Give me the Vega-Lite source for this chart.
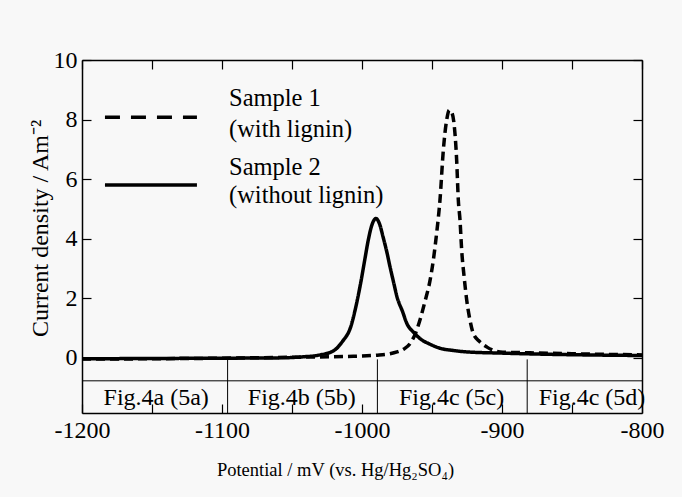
{
  "$schema": "https://vega.github.io/schema/vega-lite/v6.json",
  "width": 560,
  "height": 353,
  "autosize": "none",
  "padding": {"left": 82, "top": 60, "right": 40, "bottom": 84},
  "background": "#f8f8f8",
  "config": {
    "font": "Liberation Serif",
    "view": {"stroke": null},
    "axis": {
      "domainColor": "#000000",
      "domainWidth": 1.5,
      "tickColor": "#000000",
      "tickWidth": 1.2,
      "grid": false,
      "labelColor": "#000000",
      "titleColor": "#000000",
      "labelFont": "Liberation Serif",
      "titleFont": "Liberation Serif",
      "titleFontWeight": "normal"
    }
  },
  "datasets": {
    "curves": [
      {"sample": "Sample 2", "E": -1200, "J": -0.03},
      {"sample": "Sample 2", "E": -1150, "J": -0.02},
      {"sample": "Sample 2", "E": -1100, "J": -0.01},
      {"sample": "Sample 2", "E": -1060, "J": 0.0},
      {"sample": "Sample 2", "E": -1044, "J": 0.03},
      {"sample": "Sample 2", "E": -1030, "J": 0.1},
      {"sample": "Sample 2", "E": -1020, "J": 0.25},
      {"sample": "Sample 2", "E": -1014, "J": 0.55},
      {"sample": "Sample 2", "E": -1008, "J": 1.05},
      {"sample": "Sample 2", "E": -1004, "J": 1.8},
      {"sample": "Sample 2", "E": -1001, "J": 2.5},
      {"sample": "Sample 2", "E": -998, "J": 3.3},
      {"sample": "Sample 2", "E": -995.5, "J": 3.96},
      {"sample": "Sample 2", "E": -993, "J": 4.45},
      {"sample": "Sample 2", "E": -990, "J": 4.68},
      {"sample": "Sample 2", "E": -987.5, "J": 4.5},
      {"sample": "Sample 2", "E": -985, "J": 4.07},
      {"sample": "Sample 2", "E": -982, "J": 3.5},
      {"sample": "Sample 2", "E": -980, "J": 3.06},
      {"sample": "Sample 2", "E": -977.5, "J": 2.55},
      {"sample": "Sample 2", "E": -975, "J": 2.05},
      {"sample": "Sample 2", "E": -971, "J": 1.55},
      {"sample": "Sample 2", "E": -968, "J": 1.16},
      {"sample": "Sample 2", "E": -963, "J": 0.85},
      {"sample": "Sample 2", "E": -958.6, "J": 0.65},
      {"sample": "Sample 2", "E": -951, "J": 0.45},
      {"sample": "Sample 2", "E": -944, "J": 0.32},
      {"sample": "Sample 2", "E": -935, "J": 0.25},
      {"sample": "Sample 2", "E": -925, "J": 0.2},
      {"sample": "Sample 2", "E": -900, "J": 0.16},
      {"sample": "Sample 2", "E": -866, "J": 0.12},
      {"sample": "Sample 2", "E": -800, "J": 0.08},
      {"sample": "Sample 1", "E": -1200, "J": -0.04},
      {"sample": "Sample 1", "E": -1150, "J": -0.03},
      {"sample": "Sample 1", "E": -1100, "J": -0.01},
      {"sample": "Sample 1", "E": -1050, "J": 0.02},
      {"sample": "Sample 1", "E": -1010, "J": 0.05},
      {"sample": "Sample 1", "E": -990, "J": 0.09},
      {"sample": "Sample 1", "E": -980, "J": 0.14},
      {"sample": "Sample 1", "E": -975, "J": 0.2},
      {"sample": "Sample 1", "E": -970, "J": 0.3},
      {"sample": "Sample 1", "E": -965.7, "J": 0.48},
      {"sample": "Sample 1", "E": -962, "J": 0.8},
      {"sample": "Sample 1", "E": -958.6, "J": 1.27},
      {"sample": "Sample 1", "E": -955, "J": 1.9},
      {"sample": "Sample 1", "E": -951.4, "J": 2.6},
      {"sample": "Sample 1", "E": -949, "J": 3.3},
      {"sample": "Sample 1", "E": -946.7, "J": 4.18},
      {"sample": "Sample 1", "E": -944.3, "J": 5.3},
      {"sample": "Sample 1", "E": -941.9, "J": 6.98},
      {"sample": "Sample 1", "E": -939.5, "J": 7.99},
      {"sample": "Sample 1", "E": -937.6, "J": 8.32},
      {"sample": "Sample 1", "E": -936, "J": 8.25},
      {"sample": "Sample 1", "E": -934.3, "J": 7.88},
      {"sample": "Sample 1", "E": -932.4, "J": 6.65},
      {"sample": "Sample 1", "E": -931.2, "J": 5.3},
      {"sample": "Sample 1", "E": -930, "J": 4.63},
      {"sample": "Sample 1", "E": -928.8, "J": 3.62},
      {"sample": "Sample 1", "E": -927, "J": 2.7},
      {"sample": "Sample 1", "E": -925.2, "J": 1.94},
      {"sample": "Sample 1", "E": -923, "J": 1.3},
      {"sample": "Sample 1", "E": -920.5, "J": 0.82},
      {"sample": "Sample 1", "E": -916, "J": 0.55},
      {"sample": "Sample 1", "E": -911, "J": 0.37},
      {"sample": "Sample 1", "E": -901.4, "J": 0.2},
      {"sample": "Sample 1", "E": -880, "J": 0.17},
      {"sample": "Sample 1", "E": -850, "J": 0.14},
      {"sample": "Sample 1", "E": -800, "J": 0.1}
    ],
    "frame": [
      {"x": -1200, "x2": -800, "y": -0.77, "y2": -0.77},
      {"x": -1096, "x2": -1096, "y": -0.05, "y2": -1.85},
      {"x": -989, "x2": -989, "y": -0.05, "y2": -1.85},
      {"x": -882, "x2": -882, "y": -0.05, "y2": -1.85}
    ],
    "legendLines": [
      {"key": "Sample 1", "x": -1183.6, "x2": -1117.9, "y": 8.08},
      {"key": "Sample 2", "x": -1183.6, "x2": -1117.9, "y": 5.8}
    ],
    "legendText": [
      {"x": -1095, "y": 8.44, "t": "Sample 1"},
      {"x": -1095, "y": 7.43, "t": "(with lignin)"},
      {"x": -1095, "y": 6.14, "t": "Sample 2"},
      {"x": -1095, "y": 5.19, "t": "(without lignin)"}
    ],
    "bandText": [
      {"x": -1147, "y": -1.59, "t": "Fig.4a (5a)"},
      {"x": -1043, "y": -1.59, "t": "Fig.4b (5b)"},
      {"x": -936, "y": -1.59, "t": "Fig.4c (5c)"},
      {"x": -835.7, "y": -1.59, "t": "Fig.4c (5d)"}
    ]
  },
  "resolve": {"axis": {"x": "independent", "y": "independent"}, "scale": {"strokeDash": "independent"}},
  "layer": [
    {
      "data": {"name": "frame"},
      "mark": {"type": "rule", "color": "#000000", "strokeWidth": 1},
      "encoding": {
        "x": {"field": "x", "type": "quantitative", "scale": {"domain": [-1200, -800], "nice": false, "zero": false},
          "axis": {"orient": "top", "labels": false, "title": null, "values": [-1200, -1150, -1100, -1050, -1000, -950, -900, -850, -800], "tickSize": -9}},
        "x2": {"field": "x2"},
        "y": {"field": "y", "type": "quantitative", "scale": {"domain": [-1.85, 10], "nice": false, "zero": false},
          "axis": {"orient": "right", "labels": false, "title": null, "values": [0, 2, 4, 6, 8, 10], "tickSize": -9}},
        "y2": {"field": "y2"}
      }
    },
    {
      "data": {"name": "curves"},
      "mark": {"type": "line", "color": "#000000", "interpolate": "monotone", "strokeWidth": 3.5},
      "encoding": {
        "x": {"field": "E", "type": "quantitative", "scale": {"domain": [-1200, -800], "nice": false, "zero": false},
          "axis": {"orient": "bottom", "values": [-1200, -1150, -1100, -1050, -1000, -950, -900, -850, -800],
            "labelExpr": "datum.value % 100 == 0 ? '' + datum.value : ''",
            "tickSize": -9, "labelPadding": 14, "labelFontSize": 24, "labelFlush": false,
            "title": "Potential / mV (vs. Hg/Hg₂SO₄)", "titleFontSize": 18.5, "titleX": 253, "titleY": 62, "titleBaseline": "alphabetic", "titleAnchor": "middle"}},
        "y": {"field": "J", "type": "quantitative", "scale": {"domain": [-1.85, 10], "nice": false, "zero": false},
          "axis": {"orient": "left", "values": [0, 2, 4, 6, 8, 10], "format": "d",
            "tickSize": -9, "labelPadding": 14, "labelFontSize": 24,
            "title": "Current density / Am⁻²", "titleFontSize": 24, "titleX": -35, "titleY": 168, "titleAngle": -90, "titleBaseline": "alphabetic", "titleAnchor": "middle"}},
        "strokeDash": {"field": "sample", "type": "nominal", "scale": {"domain": ["Sample 1", "Sample 2"], "range": [[9, 5], [1, 0]]}, "legend": null},
        "detail": {"field": "sample"}
      }
    },
    {
      "data": {"name": "legendLines"},
      "mark": {"type": "rule", "color": "#000000", "strokeWidth": 3.5},
      "encoding": {
        "x": {"field": "x", "type": "quantitative", "axis": null},
        "x2": {"field": "x2"},
        "y": {"field": "y", "type": "quantitative", "axis": null},
        "strokeDash": {"field": "key", "type": "nominal", "scale": {"domain": ["Sample 1", "Sample 2"], "range": [[15, 11], [1, 0]]}, "legend": null}
      }
    },
    {
      "data": {"name": "legendText"},
      "mark": {"type": "text", "align": "left", "baseline": "alphabetic", "fontSize": 24.5, "color": "#000000", "font": "Liberation Serif"},
      "encoding": {
        "x": {"field": "x", "type": "quantitative", "axis": null},
        "y": {"field": "y", "type": "quantitative", "axis": null},
        "text": {"field": "t"}
      }
    },
    {
      "data": {"name": "bandText"},
      "mark": {"type": "text", "align": "center", "baseline": "alphabetic", "fontSize": 24, "color": "#000000", "font": "Liberation Serif"},
      "encoding": {
        "x": {"field": "x", "type": "quantitative", "axis": null},
        "y": {"field": "y", "type": "quantitative", "axis": null},
        "text": {"field": "t"}
      }
    }
  ]
}
